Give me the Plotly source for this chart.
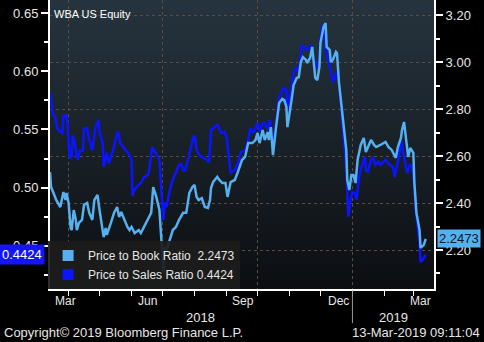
import base64
import pandas as pd
import plotly.graph_objects as go

# ---------------- data ----------------
ps_dates = ["2018-03-14","2018-03-16","2018-03-17","2018-03-19","2018-03-21","2018-03-24","2018-03-26","2018-03-27","2018-03-28","2018-03-30","2018-03-31",
"2018-04-02","2018-04-04","2018-04-05","2018-04-07","2018-04-09","2018-04-10","2018-04-12","2018-04-15","2018-04-16","2018-04-19","2018-04-21","2018-04-24","2018-04-27","2018-04-30",
"2018-05-01","2018-05-04","2018-05-05","2018-05-08","2018-05-10","2018-05-14","2018-05-17","2018-05-19","2018-05-21","2018-05-24","2018-05-28","2018-05-30",
"2018-06-01","2018-06-02","2018-06-03","2018-06-06","2018-06-10","2018-06-13","2018-06-17","2018-06-18","2018-06-21","2018-06-23","2018-06-27","2018-06-28","2018-06-30",
"2018-07-02","2018-07-03","2018-07-05","2018-07-08","2018-07-11","2018-07-14","2018-07-16","2018-07-19","2018-07-21","2018-07-23","2018-07-26","2018-07-28","2018-07-31",
"2018-08-01","2018-08-03","2018-08-06","2018-08-08","2018-08-13","2018-08-15","2018-08-17","2018-08-20","2018-08-23","2018-08-27","2018-08-30",
"2018-09-01","2018-09-03","2018-09-05","2018-09-09","2018-09-12","2018-09-15","2018-09-19","2018-09-22","2018-09-24","2018-09-27",
"2018-10-01","2018-10-03","2018-10-06","2018-10-08","2018-10-11","2018-10-13","2018-10-16","2018-10-19","2018-10-22","2018-10-24","2018-10-26","2018-10-29","2018-10-30",
"2018-11-01","2018-11-03","2018-11-05","2018-11-07","2018-11-09","2018-11-11","2018-11-13","2018-11-15","2018-11-18","2018-11-20","2018-11-22","2018-11-23","2018-11-26","2018-11-28","2018-11-30",
"2018-12-01","2018-12-02","2018-12-03","2018-12-05","2018-12-07","2018-12-09","2018-12-11","2018-12-13","2018-12-16","2018-12-17","2018-12-19","2018-12-21","2018-12-23","2018-12-26","2018-12-27","2018-12-28","2018-12-30",
"2019-01-01","2019-01-03","2019-01-05","2019-01-07","2019-01-09","2019-01-13","2019-01-14","2019-01-16","2019-01-19","2019-01-21","2019-01-23","2019-01-26","2019-01-28","2019-01-31",
"2019-02-02","2019-02-06","2019-02-09","2019-02-11","2019-02-13","2019-02-15","2019-02-17","2019-02-19","2019-02-21","2019-02-23","2019-02-25","2019-02-26","2019-02-28",
"2019-03-02","2019-03-03","2019-03-05","2019-03-07","2019-03-08","2019-03-10","2019-03-12","2019-03-13"]
ps_values = [0.581,0.569,0.5625,0.561,0.551,0.548,0.547,0.5625,0.561,0.5625,0.554,
0.526,0.5264,0.545,0.5385,0.5264,0.524,0.532,0.532,0.551,0.551,0.541,0.532,0.552,0.558,
0.547,0.5385,0.518,0.530,0.521,0.532,0.5436,0.548,0.5385,0.535,0.530,0.528,
0.524,0.493,0.497,0.5007,0.504,0.509,0.511,0.515,0.535,0.532,0.5264,0.524,0.4956,
0.472,0.487,0.4835,0.498,0.507,0.513,0.518,0.521,0.515,0.515,0.5264,0.532,0.5436,
0.545,0.532,0.528,0.5264,0.524,0.522,0.5496,0.552,0.554,0.547,0.548,
0.5436,0.5264,0.513,0.515,0.521,0.5307,0.532,0.541,0.551,0.547,
0.5556,0.548,0.5556,0.5556,0.5496,0.558,0.535,0.5556,0.578,0.581,0.5857,0.584,0.5668,
0.5753,0.590,0.5994,0.6028,0.601,0.607,0.6225,0.6208,0.6182,0.6208,0.6225,0.6165,0.6028,0.6037,0.6122,
0.6268,0.6354,0.6397,0.6294,0.614,0.607,0.601,0.5908,0.5985,0.5994,0.590,0.5668,0.5496,0.518,0.4956,0.475,0.4896,
0.4964,0.4956,0.4896,0.5067,0.516,0.5264,0.515,0.5136,0.524,0.5256,0.5196,0.5222,0.5196,0.5222,
0.524,0.5196,0.518,0.5093,0.518,0.5264,0.541,0.5325,0.5213,0.5127,0.518,0.5196,0.518,
0.5007,0.4836,0.470,0.4527,0.436,0.438,0.441,0.4424]

pb_dates = ["2018-03-14","2018-03-15","2018-03-17","2018-03-20","2018-03-24","2018-03-25","2018-03-27","2018-03-29","2018-03-30",
"2018-04-01","2018-04-03","2018-04-04","2018-04-06","2018-04-08","2018-04-09","2018-04-11","2018-04-14","2018-04-16","2018-04-19","2018-04-21","2018-04-24","2018-04-26","2018-04-29",
"2018-05-01","2018-05-03","2018-05-05","2018-05-07","2018-05-08","2018-05-12","2018-05-15","2018-05-18","2018-05-20","2018-05-22","2018-05-25","2018-05-28","2018-05-30",
"2018-06-01","2018-06-04","2018-06-08","2018-06-10","2018-06-13","2018-06-17","2018-06-20","2018-06-22","2018-06-25","2018-06-28","2018-06-30",
"2018-07-02","2018-07-03","2018-07-05","2018-07-08","2018-07-11","2018-07-14","2018-07-17","2018-07-21","2018-07-24","2018-07-27","2018-07-30",
"2018-08-01","2018-08-03","2018-08-05","2018-08-08","2018-08-11","2018-08-14","2018-08-16","2018-08-17","2018-08-19","2018-08-23","2018-08-25","2018-08-28","2018-08-31",
"2018-09-02","2018-09-05","2018-09-09","2018-09-12","2018-09-16","2018-09-19","2018-09-22","2018-09-26","2018-09-29",
"2018-10-01","2018-10-03","2018-10-06","2018-10-08","2018-10-11","2018-10-12","2018-10-14","2018-10-16","2018-10-19","2018-10-22","2018-10-25","2018-10-27","2018-10-29","2018-10-30",
"2018-11-03","2018-11-05","2018-11-08","2018-11-10","2018-11-12","2018-11-14","2018-11-17","2018-11-18","2018-11-21","2018-11-23","2018-11-26","2018-11-28","2018-11-30",
"2018-12-01","2018-12-04","2018-12-06","2018-12-07","2018-12-10","2018-12-11","2018-12-13","2018-12-16","2018-12-17","2018-12-19","2018-12-22","2018-12-25","2018-12-26","2018-12-27","2018-12-29","2018-12-31",
"2019-01-02","2019-01-04","2019-01-06","2019-01-09","2019-01-11","2019-01-12","2019-01-14","2019-01-16","2019-01-19","2019-01-22","2019-01-24","2019-01-28","2019-01-31",
"2019-02-02","2019-02-05","2019-02-08","2019-02-12","2019-02-14","2019-02-17","2019-02-18","2019-02-20","2019-02-22","2019-02-24","2019-02-26","2019-02-27",
"2019-03-01","2019-03-02","2019-03-04","2019-03-07","2019-03-08","2019-03-11","2019-03-13"]
pb_values = [2.532,2.468,2.447,2.413,2.383,2.40,2.447,2.413,2.443,
2.40,2.294,2.285,2.37,2.328,2.285,2.315,2.328,2.392,2.40,2.358,2.328,2.413,2.434,
2.37,2.315,2.255,2.294,2.264,2.315,2.358,2.383,2.34,2.362,2.328,2.298,2.285,
2.298,2.272,2.285,2.272,2.298,2.328,2.358,2.468,2.426,2.37,2.243,
2.102,2.213,2.20,2.243,2.285,2.298,2.328,2.358,2.358,2.443,2.468,
2.477,2.426,2.413,2.421,2.383,2.379,2.413,2.464,2.489,2.511,2.498,2.485,2.485,
2.426,2.489,2.498,2.532,2.583,2.596,2.655,2.655,2.668,
2.698,2.655,2.711,2.668,2.702,2.668,2.723,2.604,2.723,2.826,2.843,2.838,2.809,2.723,
2.838,2.902,2.932,2.936,3.00,3.021,3.009,2.996,3.017,3.064,2.932,2.923,2.979,
3.081,3.149,3.166,3.064,3.051,3.00,3.009,3.043,3.038,2.911,2.796,2.668,2.626,2.498,2.455,2.519,
2.519,2.485,2.583,2.647,2.668,2.677,2.617,2.638,2.668,2.647,2.638,2.647,2.655,
2.66,2.638,2.626,2.592,2.638,2.677,2.711,2.745,2.668,2.596,2.634,2.626,
2.613,2.485,2.358,2.285,2.209,2.221,2.2473]

pb_name = "Price to Book Ratio"
ps_name = "Price to Sales Ratio"
pb_last = "2.2473"
ps_last = "0.4424"
title_text = "WBA US Equity"
left_ticks = [0.45, 0.50, 0.55, 0.60, 0.65]
right_ticks = [2.20, 2.40, 2.60, 2.80, 3.00, 3.20]
month_labels = ["Mar", "Jun", "Sep", "Dec", "Mar"]
month_label_dates = ["2018-03-29", "2018-06-16", "2018-09-17", "2018-12-18", "2019-03-08"]
year_labels = ["2018", "2019"]
year_label_dates = ["2018-08-07", "2019-02-10"]
quarter_starts = ["2018-04-01", "2018-07-01", "2018-10-01", "2019-01-01"]
x_range = ["2018-03-14", "2019-03-21"]
year_break = "2019-01-01"
copyright_text = "Copyright\u00a9 2019 Bloomberg Finance L.P."
stamp_text = "13-Mar-2019 09:11:04"

# ---------------- style ----------------
PB_COLOR = "#55b0ef"
PS_COLOR = "#0a14ff"
TXT = "#e6e6e6"
FONT = "Liberation Sans, Arial, sans-serif"
GRID = "#5c4c40"

fig = go.Figure()
fig.add_trace(go.Scatter(x=ps_dates, y=ps_values, mode="lines", name=ps_name,
                         line=dict(color=PS_COLOR, width=2.5), yaxis="y", showlegend=False,
                         legendgroup="ps"))
fig.add_trace(go.Scatter(x=pb_dates, y=pb_values, mode="lines", name=pb_name,
                         line=dict(color=PB_COLOR, width=2.5), yaxis="y2", showlegend=False,
                         legendgroup="pb"))
# legend swatches (square)
fig.add_trace(go.Scatter(x=[None], y=[None], mode="markers", yaxis="y2", legendgroup="pb",
                         name=f"{pb_name}  {pb_last}",
                         marker=dict(symbol="square", size=11, color=PB_COLOR)))
fig.add_trace(go.Scatter(x=[None], y=[None], mode="markers", yaxis="y", legendgroup="ps",
                         name=f"{ps_name} {ps_last}",
                         marker=dict(symbol="square", size=11, color=PS_COLOR)))

# gradient background for plot area
svg = ('<svg xmlns="http://www.w3.org/2000/svg" width="10" height="100" preserveAspectRatio="none">'
       '<defs><linearGradient id="g" x1="0" y1="0" x2="0" y2="1">'
       '<stop offset="0" stop-color="#26343f"/><stop offset="1" stop-color="#0c0e11"/>'
       '</linearGradient></defs><rect width="10" height="100" fill="url(#g)"/></svg>')
svg_uri = "data:image/svg+xml;base64," + base64.b64encode(svg.encode()).decode()

x0 = pd.Timestamp(x_range[0]); x1 = pd.Timestamp(x_range[1])
break_frac = (pd.Timestamp(year_break) - x0) / (x1 - x0)

annotations = []
for lab, d in zip(month_labels, month_label_dates):
    annotations.append(dict(x=d, xref="x", y=-0.043, yref="paper", text=lab, showarrow=False,
                            xanchor="center", yanchor="middle", font=dict(size=12, color=TXT, family=FONT)))
for lab, d in zip(year_labels, year_label_dates):
    annotations.append(dict(x=d, xref="x", y=-0.097, yref="paper", text=lab, showarrow=False,
                            xanchor="center", yanchor="middle", font=dict(size=13, color=TXT, family=FONT)))
annotations += [
    dict(x=0.005, xref="paper", y=0.953, yref="paper", text=title_text, showarrow=False,
         xanchor="left", yanchor="middle", font=dict(size=11, color="#ffffff", family=FONT)),
    dict(x=-0.125, xref="paper", y=-0.152, yref="paper", text=copyright_text, showarrow=False,
         xanchor="left", yanchor="middle", font=dict(size=13, color=TXT, family=FONT)),
    dict(x=1.125, xref="paper", y=-0.152, yref="paper", text=stamp_text, showarrow=False,
         xanchor="right", yanchor="middle", font=dict(size=13, color=TXT, family=FONT)),
    dict(x=-0.012, xref="paper", y=float(ps_last), yref="y", text=ps_last, showarrow=False,
         xanchor="right", yanchor="middle", bgcolor="#1414ff", borderpad=2,
         font=dict(size=13, color="#ffffff", family=FONT)),
    dict(x=1.008, xref="paper", y=float(pb_last), yref="y2", text=pb_last, showarrow=False,
         xanchor="left", yanchor="middle", bgcolor=PB_COLOR, borderpad=1,
         font=dict(size=13, color="#0b1a2a", family=FONT)),
]

fig.update_layout(
    width=484, height=342,
    margin=dict(l=50, r=50, t=0, b=53),
    paper_bgcolor="#000000",
    plot_bgcolor="rgba(0,0,0,0)",
    font=dict(family=FONT, size=12, color=TXT),
    images=[dict(source=svg_uri, xref="paper", yref="paper", x=0, y=1, sizex=1, sizey=1,
                 xanchor="left", yanchor="top", sizing="stretch", layer="below")],
    xaxis=dict(type="date", range=x_range, showticklabels=False,
               tickvals=quarter_starts, ticks="outside", ticklen=5, tickcolor="#ffffff", tickwidth=1,
               showgrid=True, gridcolor=GRID, griddash="3px,3px", gridwidth=1,
               minor=dict(dtick="M1", tick0="2018-04-01", ticks="outside", ticklen=5,
                          tickcolor="#ffffff", showgrid=False),
               showline=True, linecolor="#ffffff", linewidth=2, zeroline=False),
    yaxis=dict(range=[0.413, 0.6612], tickvals=left_ticks, tickformat=".2f",
               ticks="outside", ticklen=7, tickcolor="#ffffff", tickwidth=2,
               minor=dict(dtick=0.025, tick0=0, ticks="outside", ticklen=4, tickcolor="#ffffff", showgrid=False),
               showgrid=False, zeroline=False, showline=True, linecolor="#ffffff", linewidth=2,
               tickfont=dict(size=13, color=TXT, family=FONT)),
    yaxis2=dict(range=[2.034, 3.264], tickvals=right_ticks, tickformat=".2f", overlaying="y", side="right",
                ticks="outside", ticklen=7, tickcolor="#ffffff", tickwidth=2,
                minor=dict(dtick=0.1, tick0=0, ticks="outside", ticklen=4, tickcolor="#ffffff", showgrid=False),
                showgrid=True, gridcolor=GRID, griddash="3px,3px", gridwidth=1,
                zeroline=False, showline=True, linecolor="#ffffff", linewidth=2,
                tickfont=dict(size=13, color=TXT, family=FONT)),
    legend=dict(x=-0.005, y=0, xanchor="left", yanchor="bottom", bgcolor="rgba(28,28,28,0.92)",
                font=dict(size=12, color=TXT, family=FONT), itemwidth=30, tracegroupgap=0,
                borderwidth=0, traceorder="normal"),
    showlegend=True,
    annotations=annotations,
    shapes=[dict(type="line", xref="paper", yref="paper", x0=break_frac, x1=break_frac,
                 y0=-0.005, y1=-0.118, line=dict(color="#9a9a9a", width=1))],
)

fig.write_html("out.html")
